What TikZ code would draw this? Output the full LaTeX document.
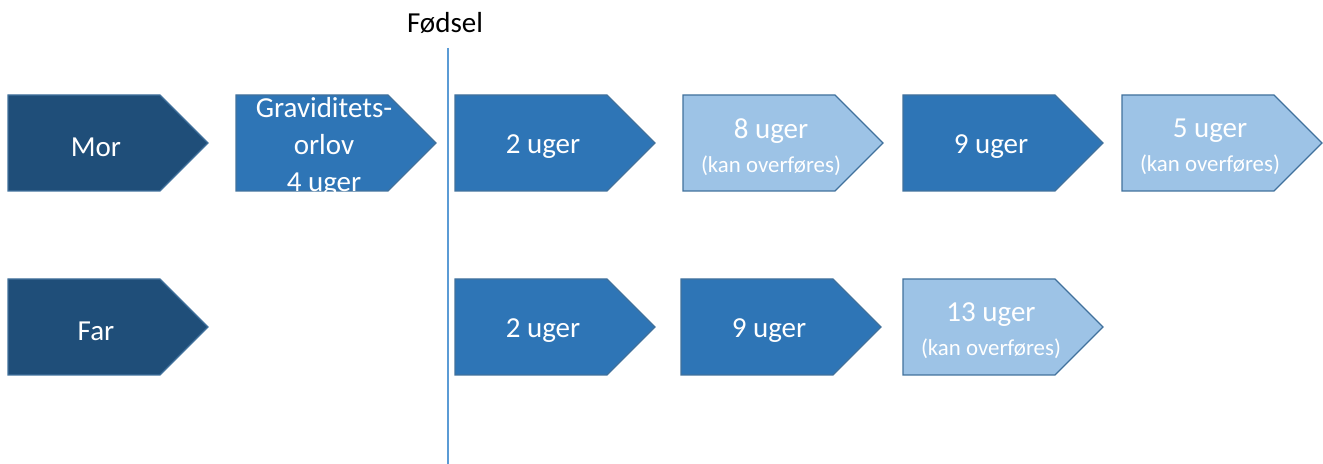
\documentclass[tikz,border=0pt]{standalone}
\usepackage{fontspec}
\setmainfont{Carlito}
\usetikzlibrary{backgrounds}
\definecolor{morblue}{HTML}{1F4E79}
\definecolor{midblue}{HTML}{2E75B6}
\definecolor{paleblue}{HTML}{9DC3E6}
\definecolor{edgeblue}{HTML}{41719C}
\definecolor{lineblue}{HTML}{5B9BD5}
\newcommand{\kanover}{\fontsize{13}{16}\selectfont (kan overføres)}
\tikzset{
  tab/.style={rectangle, inner sep=0pt, align=center, text=white, font=\fontsize{16.5}{21}\selectfont},
  tabshape/.style={fill=#1, draw=edgeblue, line width=0.7pt}
}

\begin{document}
\begin{tikzpicture}
\useasboundingbox (0,0) rectangle (26.46,9.28);

% Birth line
\node[font=\fontsize{16.5}{20}\selectfont, anchor=base] (fodsel) at (8.9,8.62) {Fødsel};
\coordinate (birthtop) at (8.96,8.32);
\coordinate (birthbot) at (8.96,0);
\draw[lineblue, line width=0.6pt] (birthtop) -- (birthbot);

% Mother row (text sits a little below the box middle)
\node[tab] (mor) at (1.92,6.34) {Mor};
\node[tab] (grav) at (6.48,6.34) {Graviditets-\\orlov\\4 uger};
\node[tab] (mtwo) at (10.86,6.34) {2 uger};
\node[tab] (meight) at (15.42,6.34) {8 uger\\[-1.7pt]\kanover};
\node[tab] (mnine) at (19.82,6.34) {9 uger};
\node[tab] (mfive) at (24.2,6.34) {5 uger\\[-1.7pt]\kanover};

% Father row
\node[tab] (far) at (1.92,2.66) {Far};
\node[tab] (ftwo) at (10.86,2.66) {2 uger};
\node[tab] (fnine) at (15.38,2.66) {9 uger};
\node[tab] (fthirteen) at (19.82,2.66) {13 uger\\[-1.7pt]\kanover};

% Arrow boxes behind the text
\begin{scope}[on background layer]
\foreach \n/\c in {mor/morblue, grav/midblue, mtwo/midblue, meight/paleblue, mnine/midblue, mfive/paleblue, far/morblue, ftwo/midblue, fnine/midblue, fthirteen/paleblue}
  \draw[tabshape=\c] (\n.center) ++(-1.76,1.04) -- ++(3.04,0) -- ++(0.96,-0.96) -- ++(-0.96,-0.96) -- ++(-3.04,0) -- cycle;
\end{scope}
\end{tikzpicture}
\end{document}
